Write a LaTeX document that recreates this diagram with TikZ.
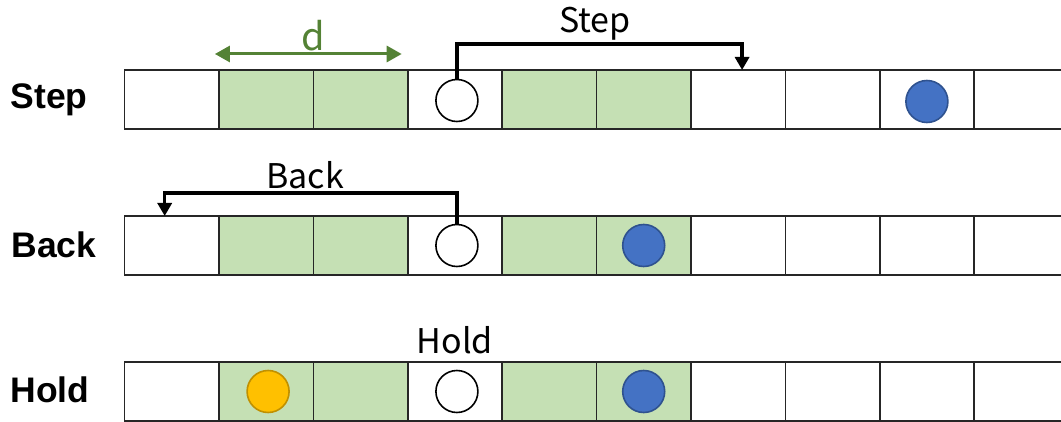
\documentclass[tikz,border=0pt]{standalone}
\usepackage{fontspec}
\newfontfamily\rowfont{Liberation Sans}
\newfontfamily\tagfont{Noto Sans CJK JP}
\usetikzlibrary{arrows.meta,calc}
\definecolor{cellgreen}{HTML}{C5E0B4}
\definecolor{dgreen}{HTML}{548235}
\definecolor{dotblue}{HTML}{4472C4}
\definecolor{dotblueedge}{HTML}{2F528F}
\definecolor{dotyellow}{HTML}{FFC000}
\definecolor{dotyellowedge}{HTML}{C09000}
\tikzset{
  cell/.style={draw=black!85, line width=1.6pt, minimum width=94.4pt, minimum height=59pt, inner sep=0pt, outer sep=0pt},
  zone/.style={cell, fill=cellgreen},
  dot/.style={circle, minimum size=42pt, inner sep=0pt, line width=1.6pt},
  agent/.style={dot, draw=black, fill=white},
  target/.style={dot, draw=dotblueedge, fill=dotblue},
  other/.style={dot, draw=dotyellowedge, fill=dotyellow},
  rowlabel/.style={anchor=west, font=\rowfont\bfseries\fontsize{35.5}{40}\selectfont},
  movelabel/.style={anchor=base, font=\tagfont\fontsize{34}{38}\selectfont},
  jump/.style={line width=3.5pt, -{Triangle[length=13pt,width=14pt]}},
  span/.style={draw=dgreen, line width=3pt, {Triangle[length=15pt,width=16pt]}-{Triangle[length=15pt,width=16pt]}}
}
\begin{document}
\begin{tikzpicture}[x=1pt,y=-1pt]
\useasboundingbox (0,0) rectangle (1061,422);
% three rows of ten cells; cells 2,3,5,6 form the green zone
\foreach \r/\yc in {1/99.5, 2/245.5, 3/391.5}{
  \foreach \c in {1,...,10}{
    \pgfmathsetmacro{\xc}{124.5+(\c-0.5)*94.4}
    \ifnum\c=2 \node[zone] (r\r c\c) at (\xc,\yc) {};
    \else\ifnum\c=3 \node[zone] (r\r c\c) at (\xc,\yc) {};
    \else\ifnum\c=5 \node[zone] (r\r c\c) at (\xc,\yc) {};
    \else\ifnum\c=6 \node[zone] (r\r c\c) at (\xc,\yc) {};
    \else \node[cell] (r\r c\c) at (\xc,\yc) {};
    \fi\fi\fi\fi
  }
}
% row titles
\node[rowlabel] (t1) at (7,100) {Step};
\node[rowlabel] (t2) at (8,245) {Back};
\node[rowlabel] (t3) at (7,390) {Hold};
% markers
\node[agent] (w1) at ($(r1c4.center)+(2,1)$) {};
\node[target] (b1) at ($(r1c9.center)+(0,2)$) {};
\node[agent] (w2) at ($(r2c4.center)+(2,0)$) {};
\node[target] (b2) at ($(r2c6.center)+(0,0)$) {};
\node[agent] (w3) at ($(r3c4.center)+(2,0)$) {};
\node[target] (b3) at ($(r3c6.center)+(0,0)$) {};
\node[other] (y3) at ($(r3c2.center)+(2,0)$) {};
% width of the zone
\coordinate (dL) at ($(r1c2.north west)+(-4,-16)$);
\coordinate (dR) at ($(r1c3.north east)+(-6,-16)$);
\draw[span] (dL) -- (dR);
\node[font=\tagfont\fontsize{38}{40}\selectfont, text=dgreen] (dlab) at (313,36) {d};
% step move
\coordinate (sEnd) at ($(r1c7.north)+(4,0)$);
\draw[jump] (w1.north) |- ($(sEnd)+(0,-26)$) -- (sEnd);
\node[movelabel] (slab) at (595,33) {Step};
% back move
\coordinate (bEnd) at ($(r2c1.north)+(-7,0)$);
\draw[jump] (w2.north) |- ($(bEnd)+(0,-23)$) -- (bEnd);
\node[movelabel] (blab) at (305,189) {Back};
% hold
\node[movelabel] (hlab) at (455,353) {Hold};
\end{tikzpicture}
\end{document}
